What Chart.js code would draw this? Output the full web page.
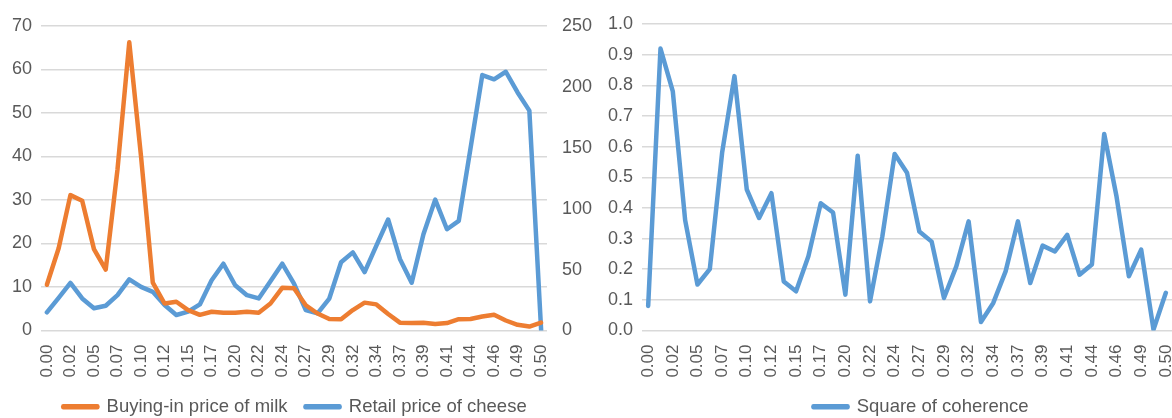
<!DOCTYPE html>
<html>
<head>
<meta charset="utf-8">
<script src="https://cdn.jsdelivr.net/npm/chart.js"></script>
<style>
  html, body { margin: 0; padding: 0; background: #fff; overflow: hidden; width: 1172px; height: 418px; }
  #leftChart { position: absolute; left: -10px; top: 0; }
  #rightChart { position: absolute; left: 586px; top: 0; }
</style>
</head>
<body>
<canvas id="leftChart" width="610" height="430"></canvas>
<canvas id="rightChart" width="670" height="430"></canvas>
<script>
// frequency categories (every other one is labelled on the axis)
const freqLabels = ['0.00', '0.01', '0.02', '0.04', '0.05', '0.06', '0.07', '0.09', '0.10', '0.11',
    '0.12', '0.13', '0.15', '0.16', '0.17', '0.18', '0.20', '0.21', '0.22', '0.23',
    '0.24', '0.26', '0.27', '0.28', '0.29', '0.30', '0.32', '0.33', '0.34', '0.35',
    '0.37', '0.38', '0.39', '0.40', '0.41', '0.43', '0.44', '0.45', '0.46', '0.48',
    '0.49', '0.50', '0.50'];

const milkPrice = [10.5, 18.9, 31.1, 29.8, 18.7, 14.0, 37, 66.2, 40, 11,
    6.2, 6.6, 4.7, 3.6, 4.3, 4.1, 4.1, 4.3, 4.1, 6.2,
    9.8, 9.7, 5.8, 3.9, 2.65, 2.6, 4.7, 6.4, 6.0, 3.8,
    1.8, 1.7, 1.8, 1.5, 1.7, 2.6, 2.65, 3.2, 3.6, 2.3,
    1.3, 0.9, 1.8];

const cheesePrice = [14.9, 26.8, 39, 26.3, 18.2, 20.3, 29, 42, 35.8, 31.7,
    20.9, 12.7, 15.5, 21.4, 41.2, 54.8, 37.1, 29, 26.3, 40.4,
    54.8, 38.4, 16.8, 14.1, 26.2, 56, 64.1, 47.9, 69.6, 91.1,
    58.7, 39.2, 79, 107.4, 83.1, 89.9, 149.4, 209.6, 206.1, 212.3,
    195.3, 180.4, 0.5];

const coherence = [0.08, 0.92, 0.78, 0.36, 0.15, 0.20, 0.58, 0.83, 0.46, 0.367,
    0.448, 0.16, 0.128, 0.242, 0.415, 0.385, 0.117, 0.57, 0.095, 0.307,
    0.576, 0.515, 0.323, 0.29, 0.106, 0.209, 0.356, 0.028, 0.09, 0.193,
    0.356, 0.155, 0.277, 0.258, 0.312, 0.182, 0.215, 0.641, 0.437, 0.177,
    0.264, 0.003, 0.123];

const orange = '#ED7D31';
const blue = '#5B9BD5';
const gridColor = '#D9D9D9';

Chart.defaults.font.family = '"Liberation Sans", Arial, sans-serif';
Chart.defaults.font.size = 18;
Chart.defaults.color = '#595959';
Chart.defaults.animation = false;

function lineSet(label, data, color, axis) {
    return {
        label: label,
        data: data,
        yAxisID: axis,
        borderColor: color,
        backgroundColor: color,
        borderWidth: 4.5,
        borderJoinStyle: 'round',
        borderCapStyle: 'round',
        pointRadius: 0,
        tension: 0,
        fill: false
    };
}

function freqAxis() {
    return {
        offset: true,
        grid: { display: false, drawTicks: false },
        border: { display: false },
        ticks: {
            autoSkip: false,
            minRotation: 90,
            maxRotation: 90,
            padding: 14,
            font: { size: 17 },
            callback: function (v, i) { return i % 2 === 0 ? freqLabels[i] : ''; }
        },
        afterFit: function (s) { s.height = 49; s.paddingLeft = 0; s.paddingRight = 0; }
    };
}

const legendOpts = {
    position: 'bottom',
    labels: { boxWidth: 34, boxHeight: 1, padding: 18, font: { size: 18.5 } }
};

document.addEventListener('DOMContentLoaded', function () {
    new Chart(document.getElementById('leftChart').getContext('2d'), {
        type: 'line',
        data: {
            labels: freqLabels,
            datasets: [
                lineSet('Buying-in price of milk', milkPrice, orange, 'y'),
                lineSet('Retail price of cheese', cheesePrice, blue, 'y1')
            ]
        },
        options: {
            responsive: false,
            layout: { padding: { top: 24, bottom: 4, left: 0, right: 0 } },
            plugins: { legend: legendOpts, tooltip: { enabled: false } },
            scales: {
                x: freqAxis(),
                y: {
                    position: 'left',
                    min: 0, max: 70,
                    ticks: { stepSize: 10, padding: 9 },
                    grid: { color: gridColor, lineWidth: 1.5, drawTicks: false },
                    border: { display: false },
                    afterFit: function (s) { s.width = 51; }
                },
                y1: {
                    position: 'right',
                    min: 0, max: 250,
                    ticks: { stepSize: 50, padding: 15 },
                    grid: { drawOnChartArea: false, drawTicks: false },
                    border: { display: false },
                    afterFit: function (s) { s.width = 53; }
                }
            }
        }
    });

    new Chart(document.getElementById('rightChart').getContext('2d'), {
        type: 'line',
        data: {
            labels: freqLabels,
            datasets: [lineSet('Square of coherence', coherence, blue, 'y')]
        },
        options: {
            responsive: false,
            layout: { padding: { top: 24, bottom: 4, left: 0, right: 0 } },
            plugins: { legend: legendOpts, tooltip: { enabled: false } },
            scales: {
                x: freqAxis(),
                y: {
                    min: 0, max: 1,
                    ticks: {
                        stepSize: 0.1,
                        padding: 9,
                        callback: function (v) { return v.toFixed(1); }
                    },
                    grid: { color: gridColor, lineWidth: 1.5, drawTicks: false },
                    border: { display: false },
                    afterFit: function (s) { s.width = 56; }
                },
                // empty spacer beyond the visible page so the legend sits where the original does
                spacer: {
                    position: 'right',
                    min: 0, max: 1,
                    ticks: { display: false },
                    grid: { drawOnChartArea: false, drawTicks: false },
                    border: { display: false },
                    afterFit: function (s) { s.width = 84; }
                }
            }
        }
    });
});
</script>
</body>
</html>
